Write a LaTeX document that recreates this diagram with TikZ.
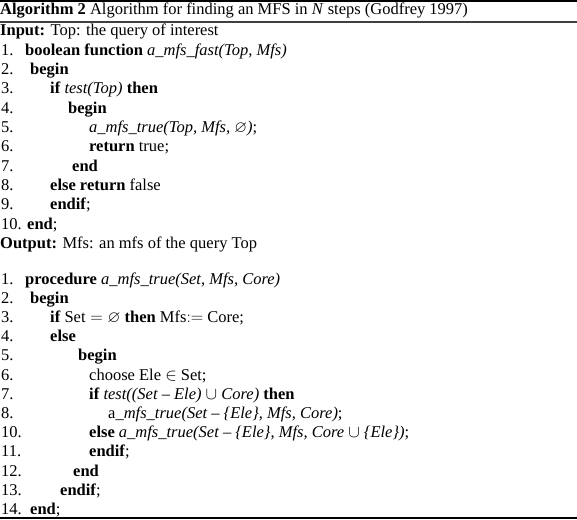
\documentclass[tikz,border=0pt]{standalone}
\usepackage{amsmath}
\usepackage{amssymb}
\usepackage{fontspec}
\setmainfont{Liberation Serif}
\usepackage{tikz}

\tikzset{
	algline/.style={anchor=base west, inner sep=0pt, font=\fontsize{16.5}{19}\selectfont},
}

\begin{document}
\begin{tikzpicture}[x=1pt,y=-1pt]
		\useasboundingbox (0,0) rectangle (577,519);
		\draw[line width=2pt] (0,1) -- (577,1);
		\draw[line width=1.5pt, black!75] (0,22) -- (577,22);
		\draw[line width=1.5pt] (0,518) -- (577,518);
		
		\node[algline] (caption) at (0,15) {\textbf{Algorithm 2} Algorithm for finding an MFS in \textit{N} steps (Godfrey 1997)};
		\node[algline] (input) at (0,36) {\textbf{Input:} Top: the query of interest};
		
		\foreach \n/\xpos/\txt in {
			1/25/{\textbf{boolean function} \textit{a\_mfs\_fast(Top, Mfs)}},
			2/30/{\textbf{begin}},
			3/50/{\textbf{if} \textit{test(Top)} \textbf{then}},
			4/68/{\textbf{begin}},
			5/89/{\textit{a\_mfs\_true(Top, Mfs, $\varnothing$)};},
			6/89/{\textbf{return} true;},
			7/72/{\textbf{end}},
			8/50/{\textbf{else return} false},
			9/50/{\textbf{endif};},
			10/27/{\textbf{end};}}{
			\node[algline] (fastnum\n) at (1,{36+19.3*\n}) {\n.};
			\node[algline] (fast\n) at (\xpos,{36+19.3*\n}) {\txt};
		}
		
		\node[algline] (output) at (0,248.3) {\textbf{Output:} Mfs: an mfs of the query Top};
		
		\foreach \n/\row/\xpos/\txt in {
			1/0/25/{\textbf{procedure} \textit{a\_mfs\_true(Set, Mfs, Core)}},
			2/1/30/{\textbf{begin}},
			3/2/50/{\textbf{if} Set${}=\varnothing$ \textbf{then} Mfs$:=$ Core;},
			4/3/50/{\textbf{else}},
			5/4/78/{\textbf{begin}},
			6/5/89/{choose Ele $\in$ Set;},
			7/6/89/{\textbf{if} \textit{test((Set -- Ele) $\cup$ Core)} \textbf{then}},
			8/7/108/{a\textit{\_mfs\_true(Set -- \{Ele\}, Mfs, Core)};},
			10/8/89/{\textbf{else} \textit{a\_mfs\_true(Set -- \{Ele\}, Mfs, Core $\cup$ \{Ele\})};},
			11/9/89/{\textbf{endif};},
			12/10/73/{\textbf{end}},
			13/11/60/{\textbf{endif};},
			14/12/30/{\textbf{end};}}{
			\node[algline] (truenum\n) at (1,{284+19.2*\row}) {\n.};
			\node[algline] (true\n) at (\xpos,{284+19.2*\row}) {\txt};
		}
	\end{tikzpicture}
\end{document}
